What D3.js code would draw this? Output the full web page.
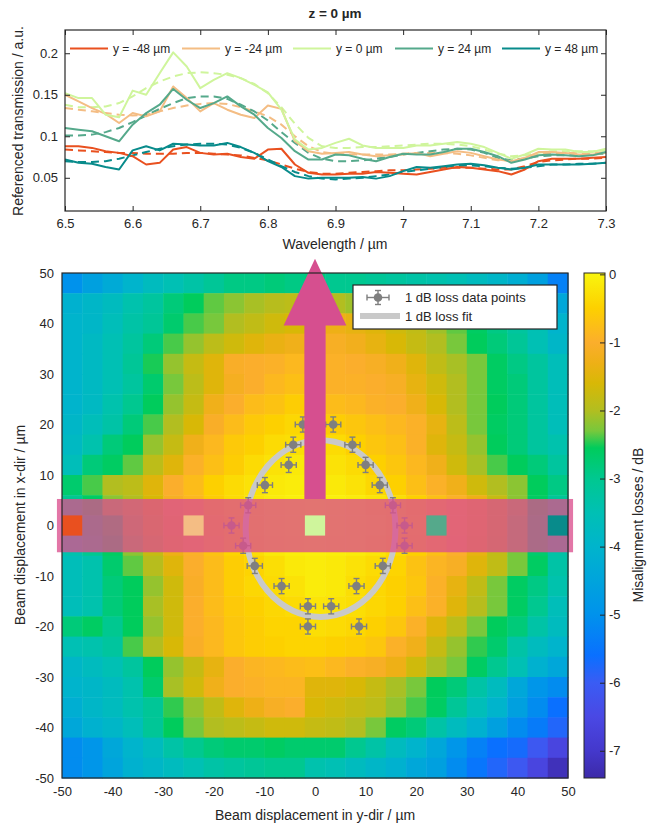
<!DOCTYPE html>
<html>
<head>
<meta charset="utf-8">
<script src="https://cdn.jsdelivr.net/npm/d3@7/dist/d3.min.js"></script>
<style>
    body { margin: 0; background: #fff; }
    text { font-family: "Liberation Sans", Arial, Helvetica, sans-serif; fill: #262626; }
</style>
</head>
<body>
<svg id="fig" width="648" height="825"></svg>
<script>
// ---- top panel: transmission spectra ----
var wl = d3.range(41).map(i => +(6.5 + i * 0.02).toFixed(2));

var solidM48 = [0.088,0.088,0.086,0.082,0.080,0.076,0.066,0.068,0.084,0.087,0.080,0.078,0.079,0.075,0.073,0.084,0.085,0.066,0.056,0.054,0.054,0.055,0.055,0.057,0.056,0.055,0.054,0.057,0.060,0.063,0.062,0.060,0.058,0.054,0.060,0.070,0.073,0.073,0.073,0.074,0.075];
var solidM24 = [0.150,0.142,0.134,0.127,0.116,0.128,0.124,0.130,0.160,0.146,0.130,0.140,0.132,0.126,0.122,0.137,0.133,0.094,0.082,0.079,0.080,0.081,0.078,0.076,0.077,0.078,0.080,0.076,0.079,0.082,0.080,0.076,0.072,0.070,0.074,0.081,0.081,0.080,0.078,0.078,0.080];
var solid0   = [0.152,0.146,0.146,0.126,0.123,0.155,0.150,0.176,0.201,0.184,0.158,0.168,0.176,0.170,0.162,0.153,0.132,0.096,0.084,0.086,0.092,0.097,0.089,0.086,0.086,0.086,0.089,0.089,0.091,0.093,0.091,0.087,0.080,0.073,0.078,0.085,0.084,0.084,0.081,0.081,0.085];
var solid24  = [0.110,0.108,0.106,0.100,0.094,0.114,0.128,0.138,0.157,0.144,0.134,0.140,0.148,0.136,0.126,0.110,0.098,0.082,0.072,0.072,0.078,0.077,0.073,0.070,0.075,0.079,0.078,0.078,0.081,0.085,0.085,0.081,0.076,0.068,0.072,0.077,0.078,0.077,0.076,0.077,0.081];
var solid48  = [0.072,0.068,0.067,0.063,0.060,0.083,0.088,0.083,0.091,0.090,0.089,0.089,0.092,0.087,0.080,0.070,0.063,0.052,0.049,0.050,0.050,0.050,0.051,0.049,0.052,0.058,0.063,0.062,0.064,0.066,0.067,0.065,0.062,0.060,0.062,0.066,0.066,0.066,0.066,0.067,0.068];

var fitM48 = [0.084,0.083,0.082,0.081,0.080,0.080,0.079,0.079,0.079,0.080,0.080,0.079,0.078,0.077,0.074,0.071,0.066,0.061,0.057,0.055,0.055,0.056,0.057,0.058,0.059,0.059,0.060,0.061,0.062,0.062,0.062,0.061,0.060,0.060,0.064,0.069,0.071,0.072,0.073,0.073,0.074];
var fitM24 = [0.134,0.132,0.130,0.128,0.126,0.125,0.126,0.130,0.134,0.137,0.139,0.140,0.139,0.135,0.130,0.124,0.114,0.100,0.088,0.081,0.079,0.078,0.078,0.078,0.078,0.079,0.080,0.080,0.080,0.079,0.077,0.074,0.071,0.071,0.074,0.078,0.080,0.080,0.080,0.080,0.081];
var fit0   = [0.138,0.135,0.135,0.136,0.140,0.148,0.158,0.166,0.172,0.176,0.177,0.176,0.174,0.170,0.163,0.152,0.135,0.115,0.098,0.088,0.086,0.086,0.087,0.087,0.088,0.089,0.090,0.091,0.091,0.090,0.088,0.084,0.079,0.076,0.077,0.080,0.082,0.082,0.082,0.082,0.083];
var fit24  = [0.101,0.101,0.102,0.105,0.110,0.117,0.125,0.133,0.140,0.146,0.148,0.148,0.145,0.138,0.130,0.119,0.105,0.092,0.080,0.073,0.070,0.070,0.071,0.073,0.075,0.078,0.080,0.082,0.084,0.085,0.084,0.080,0.074,0.071,0.073,0.076,0.077,0.077,0.077,0.078,0.079];
var fit48  = [0.070,0.069,0.069,0.070,0.073,0.077,0.081,0.085,0.088,0.090,0.091,0.091,0.090,0.086,0.080,0.072,0.064,0.057,0.052,0.049,0.048,0.049,0.050,0.052,0.054,0.057,0.059,0.061,0.063,0.064,0.065,0.064,0.062,0.061,0.062,0.064,0.066,0.066,0.067,0.067,0.068];

var seriesNames = ['y = -48 µm', 'y = -24 µm', 'y = 0 µm', 'y = 24 µm', 'y = 48 µm'];
var seriesColors = ['#e9501f', '#f4bd84', '#cff59c', '#55a98b', '#088b8b'];
var solids = [solidM48, solidM24, solid0, solid24, solid48];
var fits = [fitM48, fitM24, fit0, fit24, fit48];
var seriesPos = [-48, -24, 0, 24, 48];

var wlTicks = [6.5, 6.6, 6.7, 6.8, 6.9, 7.0, 7.1, 7.2, 7.3];
var trTicks = [0.05, 0.1, 0.15, 0.2];

// ---- bottom panel: misalignment loss map (rows x-dir 48 -> -48, cols y-dir -48 -> 48) ----
var gridPos = d3.range(-48, 49, 4);
var lossRows = [
    [-5.0,-4.6,-4.3,-4.0,-3.7,-3.5,-3.3,-3.1,-2.9,-2.9,-2.8,-2.9,-2.8,-3.0,-3.0,-3.1,-3.2,-3.3,-3.4,-3.5,-3.7,-3.9,-4.2,-4.6,-5.3],
    [-4.1,-3.9,-3.7,-3.4,-3.2,-2.8,-2.55,-2.35,-2.2,-2.05,-1.95,-1.9,-1.9,-2.0,-2.1,-2.2,-2.35,-2.5,-2.7,-2.9,-3.1,-3.4,-3.7,-4.0,-4.4],
    [-4.0,-3.9,-3.6,-3.3,-3.1,-2.7,-2.4,-2.3,-2.0,-1.85,-1.7,-1.6,-1.4,-1.3,-1.4,-1.5,-1.7,-1.85,-2.1,-2.35,-2.6,-2.9,-3.2,-3.5,-4.0],
    [-4.0,-3.8,-3.5,-3.2,-2.8,-2.4,-2.15,-1.9,-1.7,-1.5,-1.35,-1.25,-1.15,-1.1,-1.2,-1.4,-1.6,-1.8,-2.0,-2.3,-2.55,-2.8,-3.1,-3.5,-3.9],
    [-4.0,-3.8,-3.5,-3.1,-2.5,-2.15,-1.8,-1.5,-1.05,-1.0,-0.95,-0.85,-0.9,-0.95,-1.0,-1.1,-1.25,-1.5,-1.85,-2.05,-2.3,-2.6,-2.9,-3.2,-3.6],
    [-4.0,-3.8,-3.5,-3.2,-2.7,-2.3,-1.9,-1.5,-1.15,-1.0,-0.85,-0.75,-0.8,-0.95,-0.95,-1.0,-1.1,-1.4,-1.7,-2.0,-2.3,-2.6,-2.8,-3.2,-3.6],
    [-4.0,-3.8,-3.4,-3.0,-2.55,-2.15,-1.8,-1.25,-1.0,-0.8,-0.7,-0.55,-0.6,-0.8,-0.85,-0.95,-1.0,-1.25,-1.6,-2.0,-2.3,-2.55,-2.8,-3.2,-3.6],
    [-3.9,-3.6,-3.3,-2.8,-2.4,-2.0,-1.6,-1.05,-0.8,-0.6,-0.5,-0.4,-0.45,-0.55,-0.65,-0.75,-0.85,-0.95,-1.4,-1.9,-2.3,-2.6,-2.8,-3.2,-3.6],
    [-3.8,-3.4,-2.8,-2.55,-2.15,-1.8,-1.25,-0.85,-0.6,-0.5,-0.35,-0.3,-0.3,-0.35,-0.5,-0.65,-0.75,-0.95,-1.5,-1.8,-2.15,-2.55,-2.8,-3.2,-3.4],
    [-3.6,-2.8,-2.6,-2.35,-1.9,-1.5,-0.95,-0.75,-0.55,-0.35,-0.25,-0.15,-0.15,-0.25,-0.35,-0.5,-0.65,-0.85,-1.25,-1.7,-2.05,-2.4,-2.55,-2.8,-3.2],
    [-2.7,-2.4,-2.0,-1.9,-1.5,-1.0,-0.8,-0.5,-0.35,-0.25,-0.15,-0.1,-0.05,-0.15,-0.25,-0.4,-0.5,-0.75,-0.95,-1.25,-1.7,-2.0,-2.2,-2.55,-2.9],
    [-3.0,-2.6,-2.2,-2.0,-1.6,-1.1,-0.85,-0.55,-0.35,-0.2,-0.1,-0.05,0.0,-0.05,-0.1,-0.2,-0.3,-0.5,-0.75,-0.95,-1.3,-1.8,-2.2,-2.6,-3.1],
    [-3.2,-2.9,-2.5,-2.1,-1.7,-1.2,-0.9,-0.6,-0.4,-0.2,-0.1,-0.05,-0.02,-0.05,-0.1,-0.15,-0.3,-0.45,-0.7,-0.95,-1.3,-1.8,-2.3,-2.7,-3.3],
    [-3.4,-3.0,-2.6,-2.2,-1.8,-1.3,-0.95,-0.7,-0.45,-0.3,-0.15,-0.08,-0.05,-0.08,-0.12,-0.2,-0.35,-0.5,-0.75,-1.0,-1.4,-1.85,-2.3,-2.7,-3.3],
    [-3.6,-3.4,-2.7,-2.35,-1.95,-1.5,-1.0,-0.8,-0.55,-0.45,-0.3,-0.15,-0.1,-0.15,-0.25,-0.35,-0.45,-0.7,-0.9,-1.1,-1.5,-1.85,-2.3,-2.6,-3.3],
    [-3.6,-3.4,-2.8,-2.55,-2.15,-1.7,-1.05,-0.8,-0.55,-0.4,-0.35,-0.25,-0.1,-0.15,-0.3,-0.4,-0.5,-0.65,-0.95,-1.4,-1.85,-2.3,-2.6,-2.9,-3.4],
    [-3.6,-3.4,-2.8,-2.55,-2.05,-1.7,-1.0,-0.8,-0.6,-0.5,-0.4,-0.35,-0.2,-0.25,-0.3,-0.4,-0.5,-0.75,-0.95,-1.5,-1.95,-2.3,-2.6,-3.0,-3.6],
    [-2.8,-2.6,-3.0,-2.55,-2.15,-1.7,-1.0,-0.85,-0.65,-0.55,-0.45,-0.45,-0.3,-0.35,-0.4,-0.5,-0.65,-0.95,-1.5,-1.9,-2.3,-2.55,-2.8,-3.3,-3.7],
    [-3.5,-3.4,-3.2,-2.4,-2.0,-1.6,-1.05,-0.85,-0.65,-0.55,-0.5,-0.45,-0.45,-0.5,-0.55,-0.65,-0.95,-1.25,-1.8,-2.15,-2.45,-2.7,-3.3,-3.7,-4.0],
    [-3.9,-3.7,-3.5,-3.2,-2.55,-2.15,-1.8,-1.4,-1.0,-0.9,-0.85,-0.8,-0.75,-0.85,-0.95,-1.1,-1.3,-1.7,-2.05,-2.3,-2.6,-3.0,-3.5,-4.1,-4.4],
    [-4.0,-3.9,-3.7,-3.4,-2.7,-2.05,-1.7,-1.25,-1.0,-0.95,-0.9,-0.9,-1.5,-1.5,-1.6,-1.8,-2.05,-2.3,-2.55,-2.8,-3.3,-3.7,-4.4,-4.9,-5.1],
    [-4.2,-3.9,-3.7,-3.4,-3.1,-2.45,-2.15,-1.85,-1.5,-1.3,-1.1,-1.0,-1.6,-1.7,-1.8,-1.9,-2.15,-2.4,-2.6,-3.1,-3.6,-4.0,-4.6,-5.1,-5.6],
    [-4.4,-4.1,-3.9,-3.6,-3.1,-2.55,-2.3,-2.0,-1.9,-1.8,-1.7,-1.7,-1.8,-1.85,-2.0,-2.3,-2.6,-2.8,-3.3,-3.7,-4.1,-4.6,-5.1,-5.4,-5.8],
    [-5.1,-4.9,-4.4,-4.0,-3.7,-3.3,-3.0,-2.8,-2.7,-2.7,-2.6,-2.7,-2.7,-2.7,-3.0,-3.3,-3.7,-4.0,-4.4,-4.9,-5.3,-5.6,-5.7,-6.1,-6.6],
    [-5.1,-4.9,-4.5,-4.1,-3.9,-3.7,-3.5,-3.3,-3.2,-3.1,-3.0,-3.0,-3.4,-3.5,-3.7,-3.9,-4.1,-4.4,-4.6,-5.1,-5.5,-5.8,-6.1,-6.6,-7.2]
];

// 1 dB loss data points (y-dir, x-dir) and fit ellipse
var ptY = [-2.4, 3.6, -4.3, 7.4, -5.2, 10, -9.9, 12.8, -13.2, 15.4, -16.5, 17.7, -14.2, 17.7, -11.9, 13.4, -6.6, 8.2, -1.4, 3.2, -1.4, 8.7];
var ptX = [20, 20, 16, 16, 12, 12, 8, 8, 4, 4, 0, 0, -4, -4, -8, -8, -12, -12, -16, -16, -20, -20];
var ptErr = 1.5;
var fitCenter = [1.1, -0.6], fitRadii = [14.8, 17.5];

var mapTicks = [-50, -40, -30, -20, -10, 0, 10, 20, 30, 40, 50];
var cbTicks = [0, -1, -2, -3, -4, -5, -6, -7];
var cbStops = [-7.4, -7.0, -6.5, -6.0, -5.6, -5.0, -4.5, -4.0, -3.5, -3.0, -2.55, -2.3, -2.0, -1.6, -1.3, -1.0, -0.5, 0.02];
var cbColors = ['#3c2aa8', '#4438cc', '#4a48e4', '#3a5cf4', '#0a70ff', '#0092ec', '#00a4dc', '#00b4cc', '#00c0b4', '#00c890', '#00cc5c', '#78c83c', '#b2be20', '#d8b806', '#eeb016', '#fbae2c', '#fdd000', '#f9f50e'];

var svg = d3.select('#fig');
svg.append('rect').attr('width', 648).attr('height', 825).attr('fill', '#fff');

// ===================== top panel =====================
var tx = d3.scaleLinear().domain([6.5, 7.3]).range([65, 606]);
var ty = d3.scaleLinear().domain([0.01, 0.228]).range([211, 30]);

var spec = svg.append('g');

var line = d3.line()
    .x((d, i) => tx(wl[i]))
    .y(d => ty(d));

fits.forEach((f, k) => {
    spec.append('path')
        .attr('d', line(f))
        .attr('fill', 'none')
        .attr('stroke', seriesColors[k])
        .attr('stroke-width', 2)
        .attr('stroke-dasharray', '8,5');
});
solids.forEach((s, k) => {
    spec.append('path')
        .attr('d', line(s))
        .attr('fill', 'none')
        .attr('stroke', seriesColors[k])
        .attr('stroke-width', 2)
        .attr('stroke-linejoin', 'round');
});

function styleAxis(g) {
    g.select('.domain').remove();
    g.selectAll('line').attr('stroke', '#262626');
    g.selectAll('text').style('font-size', '13px').attr('fill', '#262626');
}

spec.append('g')
    .attr('transform', 'translate(0,211)')
    .call(d3.axisBottom(tx).tickValues(wlTicks).tickSize(-5).tickPadding(8).tickFormat(d => String(+d.toFixed(1))))
    .call(styleAxis);
spec.append('g')
    .attr('transform', 'translate(0,30)')
    .call(d3.axisTop(tx).tickValues(wlTicks).tickSize(-5).tickFormat(''))
    .call(styleAxis);
spec.append('g')
    .attr('transform', 'translate(65,0)')
    .call(d3.axisLeft(ty).tickValues(trTicks).tickSize(-5).tickPadding(7).tickFormat(d => String(+d.toFixed(2))))
    .call(styleAxis);
spec.append('g')
    .attr('transform', 'translate(606,0)')
    .call(d3.axisRight(ty).tickValues(trTicks).tickSize(-5).tickFormat(''))
    .call(styleAxis);

spec.append('rect')
    .attr('x', 65).attr('y', 30).attr('width', 541).attr('height', 181)
    .attr('fill', 'none').attr('stroke', '#262626').attr('stroke-width', 1.2);

// legend
var legendX = [70, 182, 293, 395, 502], ly = 48.5;
seriesNames.forEach((n, k) => {
    spec.append('line')
        .attr('x1', legendX[k]).attr('x2', legendX[k] + 38).attr('y1', ly).attr('y2', ly)
        .attr('stroke', seriesColors[k]).attr('stroke-width', 2.2);
    spec.append('text')
        .attr('x', legendX[k] + 43).attr('y', ly + 4.5)
        .style('font-size', '12px')
        .text(n);
});

spec.append('text')
    .attr('x', 335).attr('y', 18)
    .attr('text-anchor', 'middle')
    .style('font-size', '13.5px').style('font-weight', 'bold')
    .text('z = 0 µm');
spec.append('text')
    .attr('x', 335).attr('y', 249)
    .attr('text-anchor', 'middle')
    .style('font-size', '14px')
    .text('Wavelength / µm');
spec.append('text')
    .attr('transform', 'translate(23,121) rotate(-90)')
    .attr('text-anchor', 'middle')
    .style('font-size', '14px')
    .text('Referenced transmission / a.u.');

// ===================== bottom panel =====================
var hx = d3.scaleLinear().domain([-50, 50]).range([62, 568]);
var hy = d3.scaleLinear().domain([-50, 50]).range([778, 273]);
var color = d3.scaleLinear().domain(cbStops).range(cbColors).clamp(true);

var map = svg.append('g');
var cells = [];
lossRows.forEach((row, i) => {
    row.forEach((v, j) => {
        cells.push({ yd: gridPos[j], xd: gridPos[24 - i], v: v });
    });
});
map.selectAll('.cell')
    .data(cells)
    .enter()
    .append('rect')
    .attr('class', 'cell')
    .attr('x', d => hx(d.yd - 2))
    .attr('y', d => hy(d.xd + 2))
    .attr('width', hx(2) - hx(-2) + 0.5)
    .attr('height', hy(-2) - hy(2) + 0.5)
    .attr('fill', d => color(d.v));

// fit ellipse
map.append('ellipse')
    .attr('cx', hx(fitCenter[0])).attr('cy', hy(fitCenter[1]))
    .attr('rx', hx(fitRadii[0]) - hx(0)).attr('ry', hy(0) - hy(fitRadii[1]))
    .attr('fill', 'none').attr('stroke', '#c9c9c9').attr('stroke-width', 6);

// data points with error bars
function errPoint(g, cx, cy, ex, ey) {
    var c = '#7f7f7f';
    g.append('line').attr('x1', cx - ex).attr('x2', cx + ex).attr('y1', cy).attr('y2', cy).attr('stroke', c).attr('stroke-width', 1.4);
    g.append('line').attr('x1', cx).attr('x2', cx).attr('y1', cy - ey).attr('y2', cy + ey).attr('stroke', c).attr('stroke-width', 1.4);
    g.append('line').attr('x1', cx - ex).attr('x2', cx - ex).attr('y1', cy - 3).attr('y2', cy + 3).attr('stroke', c).attr('stroke-width', 1.4);
    g.append('line').attr('x1', cx + ex).attr('x2', cx + ex).attr('y1', cy - 3).attr('y2', cy + 3).attr('stroke', c).attr('stroke-width', 1.4);
    g.append('line').attr('x1', cx - 3).attr('x2', cx + 3).attr('y1', cy - ey).attr('y2', cy - ey).attr('stroke', c).attr('stroke-width', 1.4);
    g.append('line').attr('x1', cx - 3).attr('x2', cx + 3).attr('y1', cy + ey).attr('y2', cy + ey).attr('stroke', c).attr('stroke-width', 1.4);
    g.append('circle').attr('cx', cx).attr('cy', cy).attr('r', 4.3).attr('fill', c);
}
var exPx = hx(ptErr) - hx(0), eyPx = hy(0) - hy(ptErr);
ptY.forEach((yv, i) => errPoint(map, hx(yv), hy(ptX[i]), exPx, eyPx));

// highlighted row band
map.append('rect')
    .attr('x', hx(-51)).attr('y', hy(5.25))
    .attr('width', hx(51) - hx(-51)).attr('height', hy(-5.3) - hy(5.25))
    .attr('fill', '#db4f8e').attr('opacity', 0.78);

// spectrum positions
seriesPos.forEach((p, k) => {
    map.append('rect')
        .attr('x', hx(p - 2)).attr('y', hy(2))
        .attr('width', hx(2) - hx(-2)).attr('height', hy(-2) - hy(2))
        .attr('fill', seriesColors[k]);
});

// arrow
var shaftW = 2.1, headW = 6.2, shaftBase = 5.25, headBase = 39.6, tip = 52.8;
var arrowPts = [[-shaftW, shaftBase], [-shaftW, headBase], [-headW, headBase], [0, tip], [headW, headBase], [shaftW, headBase], [shaftW, shaftBase]];
map.append('polygon')
    .attr('points', arrowPts.map(p => hx(p[0]) + ',' + hy(p[1])).join(' '))
    .attr('fill', '#d64f8f');

// frame
map.append('rect')
    .attr('x', 62).attr('y', 273).attr('width', 506).attr('height', 505)
    .attr('fill', 'none').attr('stroke', '#262626').attr('stroke-width', 1.2);

// legend
var lg = map.append('g');
lg.append('rect')
    .attr('x', 353).attr('y', 285).attr('width', 204).attr('height', 44)
    .attr('fill', '#fff').attr('stroke', '#262626').attr('stroke-width', 1.2);
errPoint(lg, 378, 297.5, 11, 7);
lg.append('line')
    .attr('x1', 360).attr('x2', 400).attr('y1', 316).attr('y2', 316)
    .attr('stroke', '#c9c9c9').attr('stroke-width', 6);
lg.append('text').attr('x', 405).attr('y', 302).style('font-size', '13px').text('1 dB loss data points');
lg.append('text').attr('x', 405).attr('y', 321).style('font-size', '13px').text('1 dB loss fit');

// axes
map.append('g')
    .attr('transform', 'translate(0,778)')
    .call(d3.axisBottom(hx).tickValues(mapTicks).tickSize(0).tickPadding(9).tickFormat(d => String(d)))
    .call(styleAxis);
map.append('g')
    .attr('transform', 'translate(62,0)')
    .call(d3.axisLeft(hy).tickValues(mapTicks).tickSize(0).tickPadding(8).tickFormat(d => String(d)))
    .call(styleAxis);

map.append('text')
    .attr('x', 315).attr('y', 820)
    .attr('text-anchor', 'middle')
    .style('font-size', '14px')
    .text('Beam displacement in y-dir / µm');
map.append('text')
    .attr('transform', 'translate(25,525) rotate(-90)')
    .attr('text-anchor', 'middle')
    .style('font-size', '14px')
    .text('Beam displacement in x-dir / µm');

// colorbar
var cb = d3.scaleLinear().domain([-7.4, 0.02]).range([778, 273]);
var grad = svg.append('defs').append('linearGradient')
    .attr('id', 'cbgrad').attr('x1', 0).attr('x2', 0).attr('y1', 1).attr('y2', 0);
cbStops.forEach((s, i) => {
    grad.append('stop')
        .attr('offset', (s - cbStops[0]) / (cbStops[cbStops.length - 1] - cbStops[0]))
        .attr('stop-color', cbColors[i]);
});
svg.append('rect')
    .attr('x', 584).attr('y', 273).attr('width', 21).attr('height', 505)
    .attr('fill', 'url(#cbgrad)').attr('stroke', '#262626').attr('stroke-width', 1);
svg.append('g')
    .attr('transform', 'translate(605,0)')
    .call(d3.axisRight(cb).tickValues(cbTicks).tickSize(-5).tickPadding(4).tickFormat(d => String(d)))
    .call(styleAxis);
svg.append('text')
    .attr('transform', 'translate(643,525) rotate(-90)')
    .attr('text-anchor', 'middle')
    .style('font-size', '14px')
    .text('Misalignment losses / dB');
</script>
</body>
</html>
